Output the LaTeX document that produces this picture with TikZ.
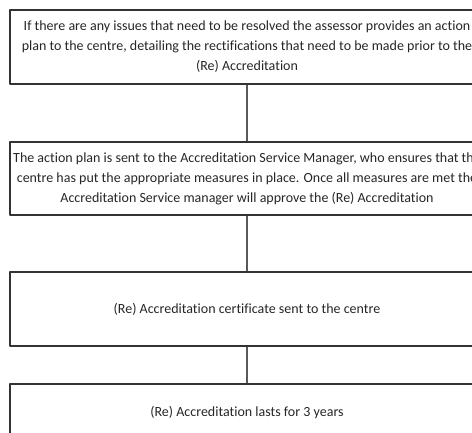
\documentclass[tikz,border=0pt]{standalone}
\usepackage{fontspec}
\setmainfont{Carlito}[Ligatures=NoCommon]
\newcommand{\wline}[1]{\makebox[0pt]{#1}}
\begin{document}
\begin{tikzpicture}[x=1pt,y=1pt,line join=round,font=\fontsize{14}{20}\selectfont,
  stage/.style={draw=black!80,line width=1.4pt,minimum width=474pt,minimum height=74pt,align=center,inner sep=0pt,text=black!85},
  link/.style={draw=black!65,line width=1.6pt}]
\def \xmid{247};
\def \W{472};
\def \H{432};
\useasboundingbox (0,0) rectangle (\W,-\H);
\clip (0,0) rectangle (\W,-\H);
\node[stage] (plan) at (\xmid,-47) {If there are any issues that need to be resolved the assessor provides an action\\ plan to the centre, detailing the rectifications that need to be made prior to the\\ (Re) Accreditation};
\node[stage,minimum height=73pt] (asm) at (\xmid,-178.5) {\wline{The action plan is sent to the Accreditation Service Manager, who ensures that the}\\ \wline{centre has put the appropriate measures in place. Once all measures are met the}\\ Accreditation Service manager will approve the (Re) Accreditation};
\node[stage] (cert) at (\xmid,-309) {(Re) Accreditation certificate sent to the centre};
\node[stage,minimum height=58pt] (years) at (\xmid,-413) {(Re) Accreditation lasts for 3 years};
\draw[link] (plan) -- (asm);
\draw[link] (asm) -- (cert);
\draw[link] (cert) -- (years);
\end{tikzpicture}
\end{document}
